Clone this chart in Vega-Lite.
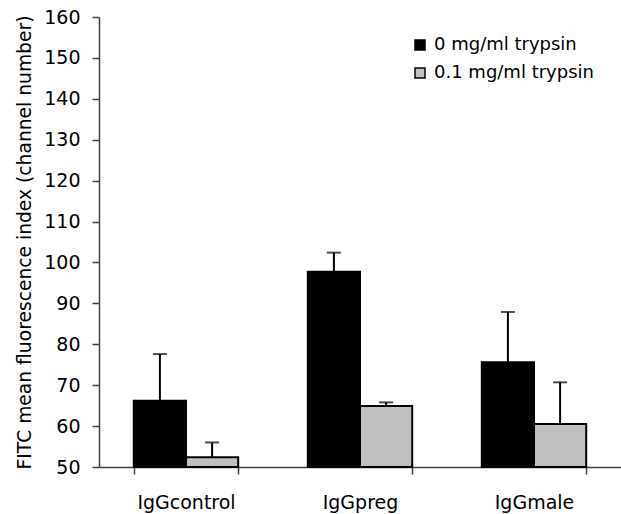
{
  "$schema": "https://vega.github.io/schema/vega-lite/v6.json",
  "autosize": {"type": "none"},
  "padding": {"left": 99, "top": 17, "right": 0, "bottom": 47},
  "width": 522,
  "height": 450,
  "background": "white",
  "config": {
    "view": {"stroke": null},
    "font": "DejaVu Sans",
    "axis": {"grid": false, "domainColor": "#404040", "domainWidth": 1.5, "tickColor": "#404040", "tickWidth": 1.5, "tickSize": 7, "labelColor": "black", "titleColor": "black", "labelFont": "DejaVu Sans", "titleFont": "DejaVu Sans", "labelFontSize": 19, "titleFontSize": 18.7, "titleFontWeight": "normal"}
  },
  "data": {
    "values": [
      {"group": "IgGcontrol", "treatment": "0 mg/ml trypsin", "value": 66.2, "upper": 77.6},
      {"group": "IgGcontrol", "treatment": "0.1 mg/ml trypsin", "value": 52.4, "upper": 56.0},
      {"group": "IgGpreg", "treatment": "0 mg/ml trypsin", "value": 97.7, "upper": 102.4},
      {"group": "IgGpreg", "treatment": "0.1 mg/ml trypsin", "value": 64.9, "upper": 65.8},
      {"group": "IgGmale", "treatment": "0 mg/ml trypsin", "value": 75.6, "upper": 87.9},
      {"group": "IgGmale", "treatment": "0.1 mg/ml trypsin", "value": 60.5, "upper": 70.7}
    ]
  },
  "encoding": {
    "x": {
      "field": "group", "type": "nominal", "sort": ["IgGcontrol", "IgGpreg", "IgGmale"],
      "scale": {"paddingInner": 0.4, "paddingOuter": 0.2},
      "axis": {"title": null, "labelAngle": 0, "labelPadding": 19, "tickBand": "extent"}
    },
    "xOffset": {"field": "treatment", "type": "nominal", "sort": ["0 mg/ml trypsin", "0.1 mg/ml trypsin"], "scale": {"paddingInner": 0, "paddingOuter": 0}}
  },
  "layer": [
    {
      "mark": {"type": "rule", "color": "black", "strokeWidth": 2},
      "encoding": {
        "y": {"field": "value", "type": "quantitative"},
        "y2": {"field": "upper"}
      }
    },
    {
      "mark": {"type": "tick", "color": "black", "thickness": 2, "size": 14},
      "encoding": {
        "y": {"field": "upper", "type": "quantitative"}
      }
    },
    {
      "mark": {"type": "bar", "stroke": "black", "strokeWidth": 2},
      "encoding": {
        "y": {
          "field": "value", "type": "quantitative",
          "scale": {"domain": [50, 160], "nice": false, "zero": false},
          "axis": {"title": "FITC mean fluorescence index (channel number)", "values": [50, 60, 70, 80, 90, 100, 110, 120, 130, 140, 150, 160], "labelPadding": 12, "titlePadding": 9}
        },
        "y2": {"datum": 50},
        "fill": {
          "field": "treatment", "type": "nominal",
          "scale": {"domain": ["0 mg/ml trypsin", "0.1 mg/ml trypsin"], "range": ["black", "#c0c0c0"]},
          "legend": {
            "title": null, "orient": "none", "legendX": 312, "legendY": 19,
            "symbolType": "square", "symbolSize": 100, "symbolStrokeColor": "black", "symbolStrokeWidth": 1.5,
            "labelFontSize": 18, "labelFont": "DejaVu Sans", "labelColor": "black", "labelOffset": 5, "rowPadding": 10, "padding": 0
          }
        }
      }
    }
  ]
}
